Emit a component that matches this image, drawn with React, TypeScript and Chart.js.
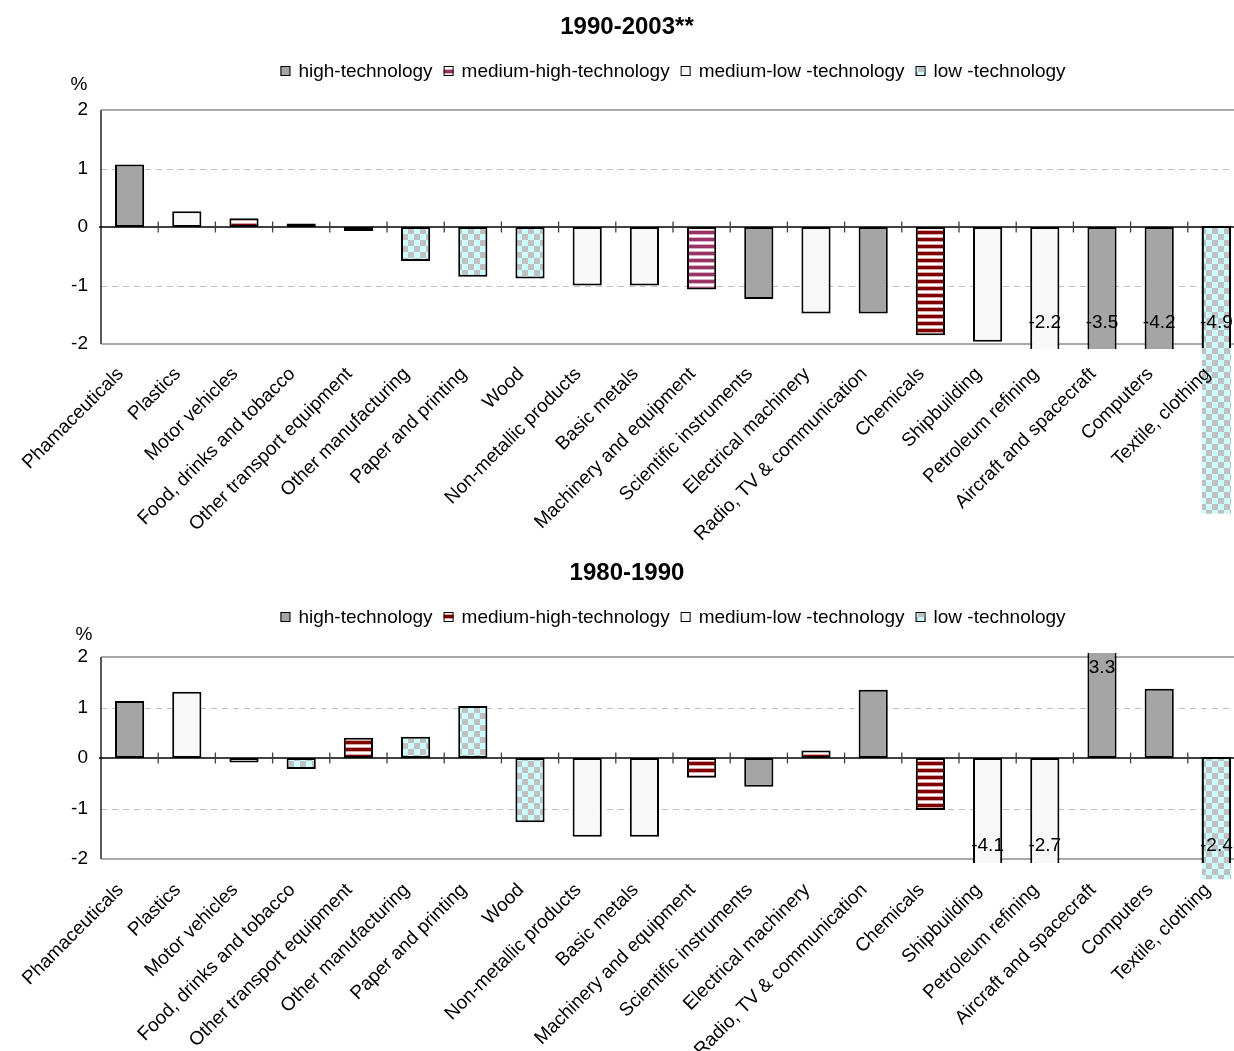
import React, { useEffect, useRef } from "react";
import { Chart, registerables } from "chart.js";

Chart.register(...registerables);

const FONT = "Arial, 'Liberation Sans', Helvetica, sans-serif";

const categories = [
  "Phamaceuticals",
  "Plastics",
  "Motor vehicles",
  "Food, drinks and tobacco",
  "Other transport equipment",
  "Other manufacturing",
  "Paper and printing",
  "Wood",
  "Non-metallic products",
  "Basic metals",
  "Machinery and equipment",
  "Scientific instruments",
  "Electrical machinery",
  "Radio, TV & communication",
  "Chemicals",
  "Shipbuilding",
  "Petroleum refining",
  "Aircraft and spacecraft",
  "Computers",
  "Textile, clothing",
];

const legendLabels = [
  "high-technology",
  "medium-high-technology",
  "medium-low -technology",
  "low -technology",
];
const groupKeys = ["high", "medHigh", "medLow", "low"];

const yMin = -2;
const yMax = 2;
const yStep = 1;

const title9003 = "1990-2003**";
const values9003 = [
  1.07, 0.27, 0.15, 0.06, -0.07, -0.58, -0.85, -0.88, -1.0, -1.0, -1.07, -1.23,
  -1.48, -1.48, -1.85, -1.96, -2.2, -3.5, -4.2, -4.9,
];
const groups9003 = [
  "high", "medLow", "medHigh", "low", "medHigh", "low", "low", "low", "medLow", "medLow",
  "medHigh", "high", "medLow", "high", "medHigh", "medLow", "medLow", "high", "high", "low",
];

const title8090 = "1980-1990";
const values8090 = [
  1.13, 1.31, -0.09, -0.22, 0.4, 0.42, 1.03, -1.27, -1.56, -1.56, -0.39, -0.57, 0.15,
  1.35, -1.03, -4.1, -2.7, 3.3, 1.37, -2.4,
];
const groups8090 = [
  "high", "medLow", "medHigh", "low", "medHigh", "low", "low", "low", "medLow", "medLow",
  "medHigh", "high", "medHigh", "high", "medHigh", "medLow", "medLow", "high", "high", "low",
];

// style helpers
const GRAY = "#A5A5A5";
const NEAR_WHITE = "#F8F8F8";
const RED = "#800000";
const RED_MID = "#D9A6A6";
const PURPLE = "#993366";
const PURPLE_MID = "#D9B3C6";
const BAR_BORDER = 2;

function makeStripe(color: string, mid: string): CanvasPattern {
  const c = document.createElement("canvas");
  c.width = 8;
  c.height = 7;
  const g = c.getContext("2d")!;
  g.fillStyle = "#FFFFFF";
  g.fillRect(0, 0, 8, 7);
  g.fillStyle = color;
  g.fillRect(0, 0, 8, 3);
  g.fillStyle = mid;
  g.fillRect(0, 3, 8, 1);
  g.fillRect(0, 6, 8, 1);
  return g.createPattern(c, "repeat") as CanvasPattern;
}

function makeChecker(): CanvasPattern {
  const s = 6;
  const c = document.createElement("canvas");
  c.width = s * 2;
  c.height = s * 2;
  const g = c.getContext("2d")!;
  g.fillStyle = "#CCFFFF";
  g.fillRect(0, 0, s * 2, s * 2);
  g.fillStyle = "#C0C0C0";
  g.fillRect(0, 0, s, s);
  g.fillRect(s, s, s, s);
  return g.createPattern(c, "repeat") as CanvasPattern;
}

type PanelProps = {
  title: string;
  values: number[];
  groups: string[];
  top: number;
  height: number;
  padTop: number;
  xAxisH: number;
  xLabelPad: number;
  titleY: number;
  legendY: number;
  pctX: number;
  pctY: number;
  negLabelOff: number;
  posLabelOff: number;
  clipPx: number;
  legendStripe: "purple" | "red";
  purpleIdx: number[];
};

const CANVAS_W = 1260;

function Panel(p: PanelProps) {
  const ref = useRef<HTMLCanvasElement>(null);

  useEffect(() => {
    const canvas = ref.current!;
    const checker = makeChecker();
    const redStripe = makeStripe(RED, RED_MID);
    const purpleStripe = makeStripe(PURPLE, PURPLE_MID);

    const fillFor = (g: string, i: number): any => {
      if (g === "high") return GRAY;
      if (g === "medLow") return NEAR_WHITE;
      if (g === "low") return checker;
      return p.purpleIdx.includes(i) ? purpleStripe : redStripe;
    };
    const legendFills = [
      GRAY,
      p.legendStripe === "purple" ? purpleStripe : redStripe,
      NEAR_WHITE,
      checker,
    ];
    const offScale = (v: number) => v < yMin || v > yMax;

    const datasets = groupKeys.map((g, gi) => ({
      label: legendLabels[gi],
      data: p.values.map((v, i) => (p.groups[i] === g ? v : null)),
      backgroundColor: p.values.map((_, i) => fillFor(g, i)),
      borderColor: "#000000",
      // unclipped (low-tech) bars that leave the plot get their outline drawn clipped in the overlay
      borderWidth: p.values.map((v) => (g === "low" && offScale(v) ? 0 : BAR_BORDER)),
      borderSkipped: false as any,
      grouped: false,
      barPercentage: 0.51,
      categoryPercentage: 1,
      clip: g === "low" ? (false as any) : p.clipPx,
    }));

    const overlay = {
      id: "overlay",
      beforeDatasetsDraw(chart: any) {
        const { ctx, chartArea: a, scales } = chart;
        const y = scales.y;
        ctx.save();
        ctx.strokeStyle = "#C0C0C0";
        ctx.lineWidth = 1;
        ctx.setLineDash([6, 5]);
        for (let v = yMin + yStep; v < yMax; v += yStep) {
          if (v === 0) continue;
          const py = Math.round(y.getPixelForValue(v)) + 0.5;
          ctx.beginPath();
          ctx.moveTo(a.left, py);
          ctx.lineTo(a.right, py);
          ctx.stroke();
        }
        ctx.setLineDash([]);
        ctx.strokeStyle = "#8C8C8C";
        ctx.lineWidth = 1.5;
        [yMax, yMin].forEach((v) => {
          const py = y.getPixelForValue(v);
          ctx.beginPath();
          ctx.moveTo(a.left, py);
          ctx.lineTo(a.right, py);
          ctx.stroke();
        });
        ctx.strokeStyle = "#5A5A5A";
        ctx.lineWidth = 2;
        ctx.beginPath();
        ctx.moveTo(a.left, a.top);
        ctx.lineTo(a.left, a.bottom);
        ctx.stroke();
        ctx.restore();
      },
      afterDatasetsDraw(chart: any) {
        const { ctx, chartArea: a, scales } = chart;
        const x = scales.x;
        const y = scales.y;
        const y0 = y.getPixelForValue(0);
        ctx.save();
        // outlines of unclipped bars, clipped to the plot
        const lowMeta = chart.getDatasetMeta(groupKeys.indexOf("low"));
        ctx.save();
        ctx.beginPath();
        ctx.rect(a.left, a.top - 4, a.right - a.left, a.bottom - a.top + 8);
        ctx.clip();
        ctx.strokeStyle = "#000000";
        ctx.lineWidth = BAR_BORDER;
        p.values.forEach((v, i) => {
          if (p.groups[i] === "low" && offScale(v)) {
            const el: any = lowMeta.data[i];
            const l = el.x - el.width / 2 + BAR_BORDER / 2;
            const r = el.x + el.width / 2 - BAR_BORDER / 2;
            const t = Math.min(el.y, el.base);
            const b = Math.max(el.y, el.base);
            ctx.strokeRect(l, t, r - l, b - t);
          }
        });
        ctx.restore();

        ctx.strokeStyle = "#000000";
        ctx.lineWidth = 1.5;
        ctx.beginPath();
        ctx.moveTo(a.left - 2, y0);
        ctx.lineTo(a.right, y0);
        ctx.stroke();
        ctx.strokeStyle = "#404040";
        ctx.lineWidth = 1.3;
        for (let i = 0; i < categories.length - 1; i++) {
          const bx = (x.getPixelForValue(i) + x.getPixelForValue(i + 1)) / 2;
          ctx.beginPath();
          ctx.moveTo(bx, y0 - 5.5);
          ctx.lineTo(bx, y0 + 5.5);
          ctx.stroke();
        }
        // value labels for off-scale bars
        ctx.fillStyle = "#000000";
        ctx.font = `19px ${FONT}`;
        ctx.textAlign = "center";
        ctx.textBaseline = "middle";
        p.values.forEach((v, i) => {
          if (offScale(v)) {
            const px = x.getPixelForValue(i);
            const py = v < 0 ? a.bottom - p.negLabelOff : a.top + p.posLabelOff;
            ctx.fillText(v.toFixed(1), px, py);
          }
        });
        ctx.restore();
      },
      afterDraw(chart: any) {
        const { ctx } = chart;
        ctx.save();
        ctx.fillStyle = "#000000";
        ctx.textBaseline = "middle";
        // title
        ctx.font = `bold 24px ${FONT}`;
        ctx.textAlign = "center";
        ctx.fillText(p.title, 627, p.titleY);
        // percent sign
        ctx.font = `19px ${FONT}`;
        ctx.fillText("%", p.pctX, p.pctY);
        // legend
        ctx.textAlign = "left";
        const box = 10;
        const gapBT = 8;
        const gapItem = 11;
        const widths = legendLabels.map((l) => ctx.measureText(l).width);
        const total =
          widths.reduce((s, w) => s + box + gapBT + w, 0) + gapItem * (legendLabels.length - 1);
        let lx = 673 - total / 2;
        legendLabels.forEach((l, i) => {
          ctx.fillStyle = legendFills[i];
          ctx.fillRect(lx, p.legendY - box / 2, box, box);
          ctx.strokeStyle = "#000000";
          ctx.lineWidth = 1;
          ctx.strokeRect(lx + 0.5, p.legendY - box / 2 + 0.5, box - 1, box - 1);
          ctx.fillStyle = "#000000";
          ctx.fillText(l, lx + box + gapBT, p.legendY + 1);
          lx += box + gapBT + widths[i] + gapItem;
        });
        ctx.restore();
      },
    };

    const chart = new Chart(canvas, {
      type: "bar",
      data: { labels: categories, datasets: datasets as any },
      options: {
        responsive: false,
        animation: false,
        devicePixelRatio: 1,
        layout: { padding: { top: p.padTop, right: 15, left: 0, bottom: 0 } },
        plugins: {
          legend: { display: false },
          title: { display: false },
          tooltip: { enabled: false },
        },
        scales: {
          x: {
            type: "category",
            z: 1,
            grid: { display: false, drawTicks: false },
            border: { display: false },
            ticks: {
              z: 1,
              autoSkip: false,
              minRotation: 45,
              maxRotation: 45,
              font: { family: FONT, size: 19 },
              color: "#000000",
              padding: p.xLabelPad,
              labelOffset: -9,
            },
            afterFit: (s: any) => {
              s.height = p.xAxisH;
            },
          },
          y: {
            min: yMin,
            max: yMax,
            ticks: {
              stepSize: yStep,
              font: { family: FONT, size: 19 },
              color: "#000000",
              padding: 13,
            },
            grid: { display: false, drawTicks: false },
            border: { display: false },
            afterFit: (s: any) => {
              s.width = 101;
            },
          },
        },
      } as any,
      plugins: [overlay],
    });
    return () => chart.destroy();
  }, []);

  return (
    <canvas
      ref={ref}
      width={CANVAS_W}
      height={p.height}
      style={{ position: "absolute", left: 0, top: p.top, width: CANVAS_W, height: p.height }}
    />
  );
}

export default function App() {
  return (
    <div
      style={{
        position: "fixed",
        left: 0,
        top: 0,
        width: 1234,
        height: 1051,
        overflow: "hidden",
        background: "#FFFFFF",
      }}
    >
      <Panel
        title={title9003}
        values={values9003}
        groups={groups9003}
        top={0}
        height={545}
        padTop={110}
        xAxisH={201}
        xLabelPad={19}
        titleY={27}
        legendY={71}
        pctX={79}
        pctY={85}
        negLabelOff={21}
        posLabelOff={11}
        clipPx={5}
        legendStripe="purple"
        purpleIdx={[10]}
      />
      <Panel
        title={title8090}
        values={values8090}
        groups={groups8090}
        top={545}
        height={506}
        padTop={112}
        xAxisH={192}
        xLabelPad={20}
        titleY={28}
        legendY={72}
        pctX={84}
        pctY={90}
        negLabelOff={13}
        posLabelOff={11}
        clipPx={4}
        legendStripe="red"
        purpleIdx={[]}
      />
    </div>
  );
}
